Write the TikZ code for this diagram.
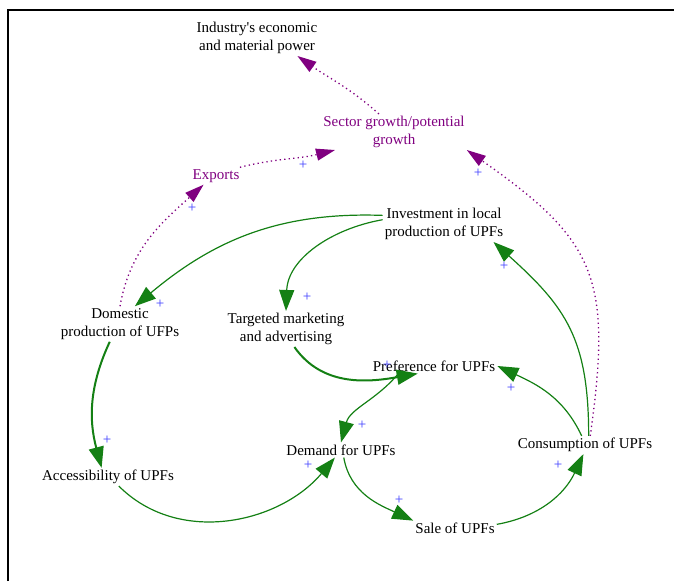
\documentclass[tikz,border=0pt]{standalone}
\usepackage{fontspec}
\setmainfont{Liberation Serif}
\usetikzlibrary{arrows.meta}
\definecolor{linkgreen}{RGB}{20,128,20}
\definecolor{sectpurple}{RGB}{128,0,128}
\definecolor{signblue}{RGB}{60,60,255}
\begin{document}
\begin{tikzpicture}[x=1pt,y=1pt,
  factor/.style={align=center,inner sep=2pt,font=\fontsize{15}{18}\selectfont},
  pfactor/.style={factor,text=sectpurple},
  link/.style={draw=linkgreen,line width=1.2pt,-{Triangle[length=21pt,width=15pt]}},
  boldlink/.style={link,line width=2pt},
  dotlink/.style={draw=sectpurple,line width=1.3pt,dash pattern=on 1.3pt off 3.2pt,-{Triangle[length=19pt,width=12pt]}},
  sign/.style={text=signblue,inner sep=0pt,font=\fontsize{15}{15}\selectfont}]
\useasboundingbox (0,0) rectangle (674,581);
\draw[line width=2pt] (8,0) -- (8,571) -- (674,571);
\node[factor] (ind) at (257,543) {Industry\textquotesingle s economic\\and material power};
\node[pfactor] (sec) at (394,449) {Sector growth/potential\\growth};
\node[pfactor] (exp) at (216,405) {Exports};
\node[factor] (inv) at (444,357) {Investment in local\\production of UPFs};
\node[factor] (dom) at (120,257) {Domestic\\production of UFPs};
\node[factor] (tgt) at (286,252) {Targeted marketing\\and advertising};
\node[factor] (pref) at (434,215) {Preference for UPFs};
\node[factor] (dem) at (341,131) {Demand for UPFs};
\node[factor] (cons) at (585,136) {Consumption of UPFs};
\node[factor] (acc) at (108,104) {Accessibility of UPFs};
\node[factor] (sale) at (455,53) {Sale of UPFs};
\draw[dotlink] (sec.130) to[out=138,in=-35] (ind.-24);
\draw[dotlink] (exp.20) to[out=14,in=194] (sec.197);
\draw[dotlink] (dom.north) to[out=80,in=222] (exp.215);
\draw[dotlink] (cons.60) to[out=82,in=-35,looseness=1.3] (sec.south east);
\draw[link] (inv.172) to[out=178,in=40] (dom.50);
\draw[link] (inv.176) to[out=190,in=88] (tgt.north);
\draw[link] (cons.68) to[out=90,in=-42,looseness=1.15] (inv.-20);
\draw[boldlink] (tgt.-65) to[out=-55,in=190] (pref.205);
\draw[link] (pref.192) to[out=230,in=75] (dem.north);
\draw[link] (cons.110) to[out=115,in=-25] (pref.east);
\draw[boldlink] (dom.-120) to[out=-115,in=105] (acc.125);
\draw[link] (acc.-40) to[out=-45,in=-130] (dem.231);
\draw[link] (dem.-70) to[out=-80,in=155] (sale.170);
\draw[link] (sale.5) to[out=10,in=-115] (cons.-100);
\node[sign] (s2) at (303,416) {+};
\node[sign] (s3) at (192,373) {+};
\node[sign] (s4) at (478,408) {+};
\node[sign] (s5) at (160,277) {+};
\node[sign] (s6) at (307,284) {+};
\node[sign] (s7) at (504,315) {+};
\node[sign] (s8) at (387,216) {+};
\node[sign] (s9) at (362,156) {+};
\node[sign] (s10) at (511,193) {+};
\node[sign] (s11) at (107,141) {+};
\node[sign] (s12) at (308,116) {+};
\node[sign] (s13) at (399,81) {+};
\node[sign] (s14) at (558,116) {+};
\end{tikzpicture}
\end{document}
